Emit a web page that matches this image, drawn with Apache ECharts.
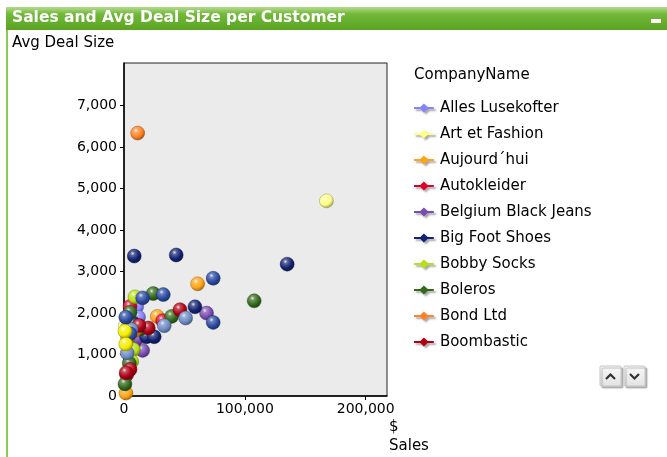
<!DOCTYPE html>
<html>
<head>
<meta charset="utf-8">
<script src="https://cdn.jsdelivr.net/npm/echarts@6/dist/echarts.min.js"></script>
<style>
  html, body { margin: 0; padding: 0; background: #fff; }
  #chart { width: 667px; height: 457px; }
</style>
</head>
<body>
<div id="chart"></div>
<script>
// [sales $, avg deal size] per customer
const allesLusekofter = [[10500, 2150], [6400, 1800], [3000, 1250], [12000, 1900]];
const artEtFashion = [[167500, 4705], [1200, 1700]];
const aujourdhui = [[60900, 2705], [27500, 1920], [9100, 1360], [7700, 1270], [1600, 70], [4000, 1300], [14500, 1550]];
const autokleider = [[32000, 1815], [5000, 2160], [10500, 1515], [2200, 510], [3500, 1450]];
const belgiumBlackJeans = [[68300, 2000], [15400, 1100], [7200, 1775], [7700, 1235], [11000, 1400]];
const bigFootShoes = [[8500, 3375], [43200, 3400], [135000, 3180], [58700, 2150], [18700, 1430], [25000, 1430], [7700, 1740]];
const bobbySocks = [[9100, 2390], [7700, 1120], [6400, 830], [3000, 1650]];
const boleros = [[107700, 2295], [24200, 2470], [39400, 1920], [13800, 1620], [5000, 2015], [800, 290], [4400, 790]];
const bondLtd = [[11300, 6340], [3000, 1400], [9000, 1580]];
const boombastic = [[46300, 2080], [20100, 1640], [5000, 640], [1800, 560], [12500, 1700]];
// customers further down the (scrolled) legend
const moreCustomersA = [[51000, 1880], [33300, 1695], [2700, 1035], [6000, 1600]];
const moreCustomersB = [[73800, 2840], [32500, 2445], [15400, 2365], [73800, 1775], [5000, 1500], [1500, 1900]];
const moreCustomersC = [[800, 1560], [1500, 1250]];

const legendNames = ['Alles Lusekofter', 'Art et Fashion', 'Aujourd\u00b4hui', 'Autokleider', 'Belgium Black Jeans',
  'Big Foot Shoes', 'Bobby Socks', 'Boleros', 'Bond Ltd', 'Boombastic'];
const hiddenNames = ['More customers A', 'More customers B', 'More customers C'];
const seriesData = [allesLusekofter, artEtFashion, aujourdhui, autokleider, belgiumBlackJeans,
  bigFootShoes, bobbySocks, boleros, bondLtd, boombastic, moreCustomersA, moreCustomersB, moreCustomersC];

const yTicks = [0, 1000, 2000, 3000, 4000, 5000, 6000, 7000];
const xTicks = [0, 100000, 200000];

const colors = ['#8484ff', '#ffff84', '#ffa414', '#e0002c', '#7a4cb2', '#122272', '#b8e014',
  '#326a1a', '#ff8224', '#b00014', '#6e8cc6', '#2a4aa2', '#f4ee00'];

const FONT = 'DejaVu Sans';

function shade(hex, f) {
  const n = parseInt(hex.slice(1), 16);
  let r = (n >> 16) & 255, g = (n >> 8) & 255, b = n & 255;
  const t = f < 0 ? 0 : 255, p = Math.abs(f);
  r = Math.round((t - r) * p + r); g = Math.round((t - g) * p + g); b = Math.round((t - b) * p + b);
  return 'rgb(' + r + ',' + g + ',' + b + ')';
}

function sphere(c) {
  return {
    type: 'radial', x: 0.38, y: 0.32, r: 0.75,
    colorStops: [
      { offset: 0, color: shade(c, 0.9) },
      { offset: 0.2, color: shade(c, 0.3) },
      { offset: 0.6, color: c },
      { offset: 1, color: shade(c, -0.45) }
    ]
  };
}

const allNames = legendNames.concat(hiddenNames);
const btnFill = { type: 'linear', x: 0, y: 0, x2: 0, y2: 1, colorStops: [{ offset: 0, color: '#fafafa' }, { offset: 1, color: '#e2e2e2' }] };

const chart = echarts.init(document.getElementById('chart'));
chart.setOption({
  animation: false,
  textStyle: { fontFamily: FONT },
  grid: {
    left: 124, top: 63, width: 263, height: 333,
    show: true, backgroundColor: '#ebebeb', borderColor: '#222', borderWidth: 1
  },
  xAxis: {
    type: 'value', min: 0, max: 217600,
    axisLine: { lineStyle: { color: '#000', width: 1.5 } },
    axisTick: { show: true, length: 4, customValues: xTicks, lineStyle: { color: '#000' } },
    splitLine: { show: false },
    axisLabel: {
      color: '#000', fontSize: 14, fontFamily: FONT, margin: 6, customValues: xTicks,
      formatter: v => v.toLocaleString('en-US')
    }
  },
  yAxis: {
    type: 'value', min: 0, max: 8030,
    axisLine: { lineStyle: { color: '#000', width: 1.5 } },
    axisTick: { show: true, length: 4, customValues: yTicks, lineStyle: { color: '#000' } },
    splitLine: { show: false },
    axisLabel: {
      color: '#000', fontSize: 14, fontFamily: FONT, margin: 7, customValues: yTicks,
      formatter: v => v.toLocaleString('en-US')
    }
  },
  legend: {
    orient: 'vertical', left: 414, top: 100, padding: 0,
    itemWidth: 22, itemHeight: 9, itemGap: 10,
    icon: 'path://M0,4L7,4L11,0L15,4L22,4L22,6L15,6L11,10L7,6L0,6Z',
    textStyle: { color: '#000', fontSize: 15, fontFamily: FONT, lineHeight: 16 },
    data: legendNames.map((n, i) => ({
      name: n,
      itemStyle: { color: colors[i], borderWidth: 0, shadowColor: 'rgba(0,0,0,0.35)', shadowOffsetX: 2, shadowOffsetY: 2, shadowBlur: 2 }
    }))
  },
  graphic: [
    // frame left edge
    { type: 'rect', shape: { x: 6, y: 7, width: 2, height: 450 }, style: { fill: '#8cc85a' } },
    // title bar
    {
      type: 'rect', shape: { x: 6, y: 7, width: 661, height: 23 },
      style: {
        fill: { type: 'linear', x: 0, y: 0, x2: 0, y2: 1,
          colorStops: [{ offset: 0, color: '#b4dc8c' }, { offset: 0.3, color: '#72b83a' }, { offset: 1, color: '#5aa420' }] }
      }
    },
    {
      type: 'text', left: 12, top: 10,
      style: { text: 'Sales and Avg Deal Size per Customer', fill: '#fff', font: 'bold 15.5px "DejaVu Sans"' }
    },
    { type: 'rect', shape: { x: 651, y: 19, width: 10, height: 4 }, style: { fill: '#fff' } },
    { type: 'text', left: 12, top: 36, style: { text: 'Avg Deal Size', fill: '#000', font: '15px "' + FONT + '"' } },
    { type: 'text', left: 414, top: 68, style: { text: 'CompanyName', fill: '#000', font: '15px "' + FONT + '"' } },
    { type: 'text', left: 389, top: 420, style: { text: '$', fill: '#000', font: '15px "' + FONT + '"' } },
    { type: 'text', left: 389, top: 439, style: { text: 'Sales', fill: '#000', font: '15px "' + FONT + '"' } },
    // legend scroll buttons
    {
      type: 'rect', shape: { x: 600, y: 366, width: 21, height: 20, r: 1 },
      style: { fill: btnFill, stroke: '#c4c4c4', lineWidth: 1, shadowColor: 'rgba(0,0,0,0.25)', shadowOffsetX: 2, shadowOffsetY: 2, shadowBlur: 1 }
    },
    {
      type: 'rect', shape: { x: 624, y: 366, width: 21, height: 20, r: 1 },
      style: { fill: btnFill, stroke: '#c4c4c4', lineWidth: 1, shadowColor: 'rgba(0,0,0,0.25)', shadowOffsetX: 2, shadowOffsetY: 2, shadowBlur: 1 }
    },
    { type: 'polyline', shape: { points: [[606, 379], [610.5, 374.5], [615, 379]] }, style: { stroke: '#333', lineWidth: 2.2, fill: null } },
    { type: 'polyline', shape: { points: [[630, 374], [634.5, 378.5], [639, 374]] }, style: { stroke: '#333', lineWidth: 2.2, fill: null } }
  ],
  series: seriesData.map((d, i) => ({
    name: allNames[i],
    type: 'scatter',
    symbol: 'circle',
    symbolSize: 14,
    data: d,
    itemStyle: { color: sphere(colors[i]), borderColor: shade(colors[i], -0.5), borderWidth: 0.4, opacity: 1 }
  }))
});
</script>
</body>
</html>
